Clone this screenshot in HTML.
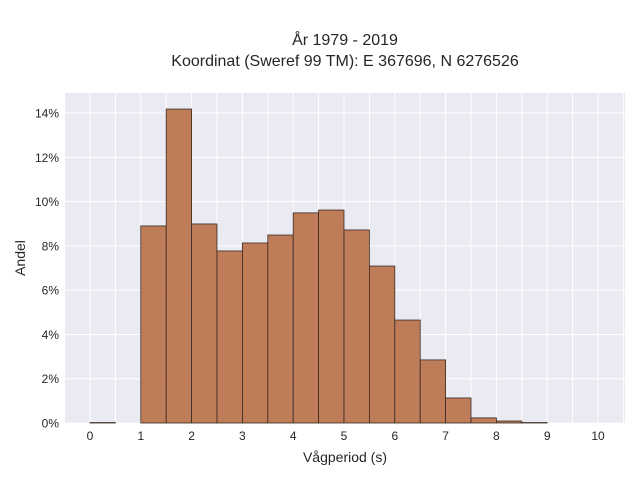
<!DOCTYPE html>
<html><head><meta charset="utf-8"><style>
body{margin:0;background:#fff;}
svg text{font-family:"Liberation Sans",sans-serif;fill:#262626;}
</style></head><body>
<svg width="640" height="480" id="chart" xmlns="http://www.w3.org/2000/svg">
<text x="345" y="45" text-anchor="middle" font-size="16">År 1979 - 2019</text>
<text x="345" y="66" text-anchor="middle" font-size="16">Koordinat (Sweref 99 TM): E 367696, N 6276526</text>
<rect x="65" y="93" width="560" height="330" fill="#eaeaf2"/>
<g id="grid"></g>
<g id="bars"></g>
<g id="xticks"></g>
<g id="yticks"></g>
<text x="345" y="462" text-anchor="middle" font-size="14">Vågperiod (s)</text>
<text transform="translate(25,258) rotate(-90)" text-anchor="middle" font-size="14">Andel</text>
</svg>
<script>
const binStarts=[0,0.5,1,1.5,2,2.5,3,3.5,4,4.5,5,5.5,6,6.5,7,7.5,8,8.5,9,9.5];
const shares=[0.02,0,8.9,14.18,8.99,7.77,8.13,8.49,9.49,9.62,8.72,7.09,4.65,2.85,1.13,0.23,0.09,0.02,0,0];
const xTicks=[0,1,2,3,4,5,6,7,8,9,10];
const yTicks=[0,2,4,6,8,10,12,14];
const binWidth=0.5;
const NS="http://www.w3.org/2000/svg";
const X=v=>90+v*50.8, Y=v=>423-v*22.14;
const grid=document.getElementById('grid'),bars=document.getElementById('bars'),xt=document.getElementById('xticks'),yt=document.getElementById('yticks');
function mk(tag,attrs){const e=document.createElementNS(NS,tag);for(const k in attrs)e.setAttribute(k,attrs[k]);return e;}
for(let v=-0.5;v<=10.5;v+=0.5){const x=X(v);if(x<65||x>625)continue;
 const l=mk('line',{x1:x,x2:x,y1:93,y2:423,stroke:'#fff','stroke-width':1});
 
 
 grid.appendChild(l);}
yTicks.forEach(v=>{const y=Y(v);
 const l=mk('line',{x1:65,x2:625,y1:y,y2:y,stroke:'#fff','stroke-width':1});
 
 
 grid.appendChild(l);
 const t=mk('text',{x:59,y:y+4.5,'text-anchor':'end','font-size':12});t.textContent=v+'%';
 
 
 yt.appendChild(t);});
xTicks.forEach(v=>{const t=mk('text',{x:X(v),y:440,'text-anchor':'middle','font-size':12});t.textContent=v;
 
 
 xt.appendChild(t);});
binStarts.forEach((s,i)=>{const v=shares[i];if(v<=0)return;
 const x0=X(s),x1=X(s+binWidth),y=Y(v);
 const r=mk('rect',{x:x0,y:y,width:x1-x0,height:423-y,fill:'#bd7650',stroke:'#3a2a22','stroke-width':0.8,'fill-opacity':0.95});
 
 
 bars.appendChild(r);});
</script>
</body></html>
